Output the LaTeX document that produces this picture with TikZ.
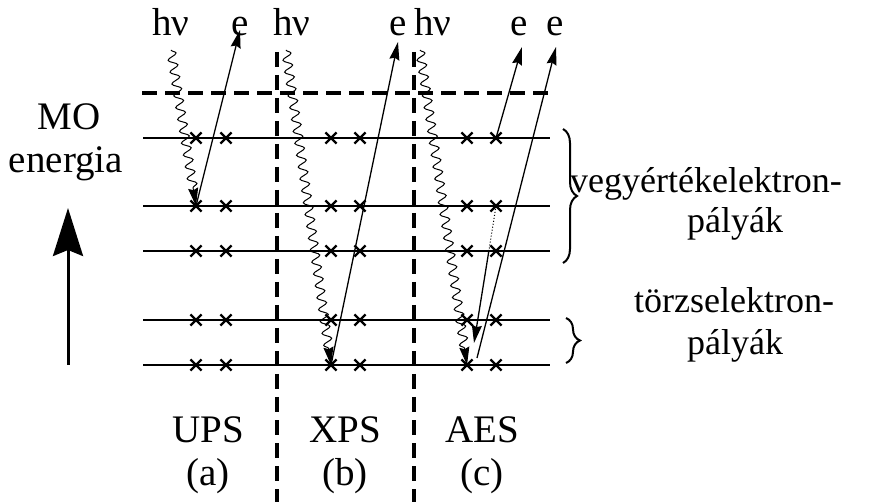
\documentclass[tikz,border=0pt]{standalone}
\usepackage{fontspec}
\setmainfont{Liberation Serif}
\usetikzlibrary{arrows.meta,decorations.pathmorphing,decorations.pathreplacing,shapes.misc}
\begin{document}
\begin{tikzpicture}[x=1pt,y=-1pt,
  lbl/.style={font=\fontsize{39}{44}\selectfont, inner sep=0pt, anchor=base},
  rlbl/.style={font=\fontsize{36}{40}\selectfont, inner sep=0pt, anchor=base},
  level/.style={line width=2.6pt},
  sep/.style={line width=3.2pt, dash pattern=on 15pt off 8pt},
  xmark/.style={cross out, draw, line width=2.2pt, minimum size=9pt, inner sep=0pt},
  elec/.style={line width=1.3pt, -{Stealth[length=18pt,width=10pt,inset=2pt]}},
  phot/.style={line width=1pt, -{Stealth[length=18pt,width=10pt,inset=2pt]},
    decorate, decoration={snake, segment length=12pt, amplitude=4.5pt, post length=16pt}},
  brc/.style={line width=2pt, decorate, decoration={brace, amplitude=14pt}}
]
\useasboundingbox (0,0) rectangle (886,502);

% separators
\draw[sep] (142,93) -- (548,93);
\draw[sep] (277,52) -- (277,502);
\draw[sep] (414,52) -- (414,502);

% levels
\foreach \y/\n in {138/1,206/2,251/3,320/4,365/5}{
  \draw[level] (143,\y) -- (550,\y);
  \node[xmark] (u\n a) at (196,\y) {};
  \node[xmark] (u\n b) at (226,\y) {};
  \node[xmark] (x\n a) at (331,\y) {};
  \node[xmark] (x\n b) at (360,\y) {};
  \node[xmark] (a\n a) at (467,\y) {};
  \node[xmark] (a\n b) at (496,\y) {};
}

% top labels
\node[lbl] (hv1) at (171,36) {hν};
\node[lbl] (e1) at (240,36) {e};
\node[lbl] (hv2) at (292,36) {hν};
\node[lbl] (e2) at (398,36) {e};
\node[lbl] (hv3) at (433,36) {hν};
\node[lbl] (e3) at (519,36) {e};
\node[lbl] (e4) at (555,36) {e};

% photon start points and electron tips
\coordinate (p1) at (171,50);
\coordinate (p2) at (286,50);
\coordinate (p3) at (420,50);
\coordinate (t1) at (240,30);
\coordinate (t2) at (398,42);
\coordinate (t3) at (522,47);
\coordinate (t4) at (556,47);
\coordinate (aug1) at (489,250);
\coordinate (aug2) at (474,343);
\coordinate (em) at (477,358);

% UPS
\draw[phot] (p1) -- (u2a.center);
\draw[elec] (u2a.center) -- (t1);
% XPS
\draw[phot] (p2) -- (x5a.center);
\draw[elec] (x5a.center) -- (t2);
% AES
\draw[phot] (p3) -- (a5a.center);
\draw[line width=1pt, dotted] (a2b.center) -- (aug1);
\draw[elec] (aug1) -- (aug2);
\draw[elec] (em) -- (t4);
\draw[elec] (a1b.center) -- (t3);

% energy axis
\node[lbl] (mo) at (69,130) {MO};
\node[lbl] (en) at (66,173) {energia};
\coordinate (ax0) at (68,365);
\coordinate (ax1) at (68,208);
\draw[line width=3pt, -{Stealth[length=48pt,width=30pt,inset=6pt]}] (ax0) -- (ax1);

% braces
\coordinate (b1t) at (563,129);
\coordinate (b1b) at (563,263);
\coordinate (b2t) at (566,318);
\coordinate (b2b) at (566,363);
\draw[brc] (b1t) -- (b1b);
\draw[brc] (b2t) -- (b2b);
\node[rlbl] (val1) at (706,193) {vegyértékelektron-};
\node[rlbl] (val2) at (735,233) {pályák};
\node[rlbl] (core1) at (734,313) {törzselektron-};
\node[rlbl] (core2) at (735,355) {pályák};

% bottom labels
\node[lbl] (ups) at (208,442) {UPS};
\node[lbl] (pa) at (208,485) {(a)};
\node[lbl] (xps) at (345,442) {XPS};
\node[lbl] (pb) at (345,485) {(b)};
\node[lbl] (aes) at (482,442) {AES};
\node[lbl] (pc) at (482,485) {(c)};
\end{tikzpicture}
\end{document}
